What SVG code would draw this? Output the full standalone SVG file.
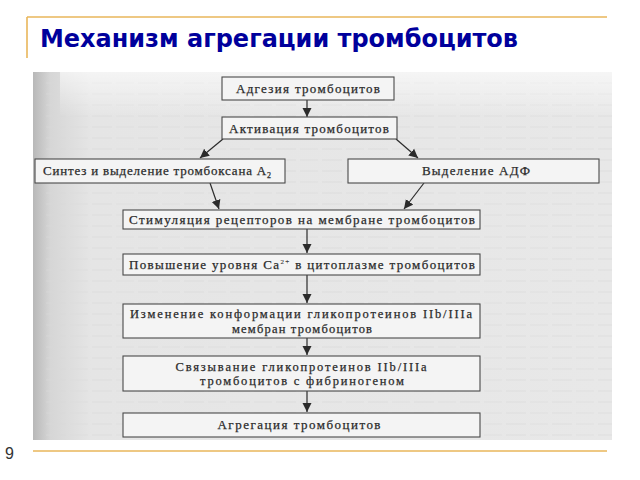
<svg xmlns="http://www.w3.org/2000/svg" width="640" height="480" viewBox="0 0 640 480">
<defs>
<style>
.box{fill:#f4f4f4;stroke:#4a4a4a;stroke-width:1.1}
.t{font-family:"Liberation Serif","Times New Roman",serif;font-size:13px;fill:#2b2b2b;stroke:#2b2b2b;stroke-width:0.25;text-anchor:middle}
.t2{font-size:12.5px}
.c{stroke:#2b2b2b;stroke-width:1.2;fill:none}
.gold{stroke:#E9B65A;stroke-width:1.6}
</style>
<marker id="ah" markerUnits="userSpaceOnUse" markerWidth="10" markerHeight="10" refX="9" refY="5" orient="auto">
<path d="M0,0.5 L9,5 L0,9.5 Z" fill="#2b2b2b"/>
</marker>
<linearGradient id="scanG" x1="0" y1="0" x2="1" y2="0">
<stop offset="0" stop-color="#b8b8b8"/>
<stop offset="0.03" stop-color="#d6d6d6"/>
<stop offset="0.1" stop-color="#e5e5e5"/>
<stop offset="1" stop-color="#e8e8e8"/>
</linearGradient>
<linearGradient id="topFade" x1="0" y1="0" x2="0" y2="1">
<stop offset="0" stop-color="#ffffff" stop-opacity="0.6"/>
<stop offset="1" stop-color="#ffffff" stop-opacity="0"/>
</linearGradient>
<pattern id="lines" width="46" height="11" patternUnits="userSpaceOnUse">
<line x1="0" y1="6" x2="20" y2="6" stroke="#d9d9d9" stroke-width="1.4"/>
<line x1="24" y1="6" x2="42" y2="6" stroke="#dcdcdc" stroke-width="1.4"/>
</pattern>
</defs>
<rect x="0" y="0" width="640" height="480" fill="#ffffff"/>
<line class="gold" x1="27" y1="17" x2="607" y2="17"/>
<line class="gold" x1="27" y1="17" x2="27" y2="58"/>
<text x="40" y="47" font-family="'DejaVu Sans','Verdana',sans-serif" font-weight="bold" font-size="24" fill="#00009C" textLength="478" lengthAdjust="spacingAndGlyphs">Механизм агрегации тромбоцитов</text>
<rect x="33" y="72" width="579" height="368" fill="url(#scanG)"/>
<rect x="45" y="76" width="567" height="362" fill="url(#lines)" opacity="0.5"/>
<rect x="60" y="72" width="552" height="45" fill="url(#topFade)"/>
<g id="connectors">
<line class="c" x1="307" y1="100" x2="307" y2="117" marker-end="url(#ah)"/>
<line class="c" x1="223" y1="139" x2="200" y2="158" marker-end="url(#ah)"/>
<line class="c" x1="396" y1="139" x2="418" y2="158" marker-end="url(#ah)"/>
<line class="c" x1="210" y1="183" x2="219" y2="209" marker-end="url(#ah)"/>
<line class="c" x1="424" y1="183" x2="404" y2="209" marker-end="url(#ah)"/>
<line class="c" x1="307" y1="229" x2="307" y2="253" marker-end="url(#ah)"/>
<line class="c" x1="307" y1="275" x2="307" y2="303" marker-end="url(#ah)"/>
<line class="c" x1="307" y1="338" x2="307" y2="355" marker-end="url(#ah)"/>
<line class="c" x1="307" y1="391" x2="307" y2="412" marker-end="url(#ah)"/>
</g>
<g id="n1"><rect class="box" x="222" y="77" width="172" height="23"/><text class="t" x="308" y="93" textLength="144">Адгезия тромбоцитов</text></g>
<g id="n2"><rect class="box" x="222" y="117" width="175" height="22"/><text class="t" x="309" y="133" textLength="160">Активация тромбоцитов</text></g>
<g id="n3"><rect class="box" x="35" y="159" width="250" height="24"/><text class="t" x="157" y="175" textLength="228">Синтез и выделение тромбоксана A<tspan font-size="8" dy="3">2</tspan></text></g>
<g id="n4"><rect class="box" x="348" y="159" width="251" height="24"/><text class="t" x="476" y="175" textLength="108">Выделение АДФ</text></g>
<g id="n5"><rect class="box" x="123" y="210" width="357" height="19"/><text class="t" x="302" y="224" textLength="346">Стимуляция рецепторов на мембране тромбоцитов</text></g>
<g id="n6"><rect class="box" x="123" y="254" width="357" height="21"/><text class="t" x="302" y="269" textLength="346">Повышение уровня Ca<tspan font-size="7" dy="-5" stroke-width="0.1">2+</tspan><tspan dy="5"> в цитоплазме тромбоцитов</tspan></text></g>
<g id="n7"><rect class="box" x="123" y="304" width="357" height="34"/><text class="t t2" x="301" y="318" textLength="342">Изменение конформации гликопротеинов IIb/IIIa</text><text class="t t2" x="302" y="332.5" textLength="140">мембран тромбоцитов</text></g>
<g id="n8"><rect class="box" x="123" y="356" width="357" height="35"/><text class="t t2" x="301" y="370.5" textLength="251">Связывание гликопротеинов IIb/IIIa</text><text class="t t2" x="302" y="385" textLength="204">тромбоцитов с фибриногеном</text></g>
<g id="n9"><rect class="box" x="123" y="413" width="357" height="24"/><text class="t" x="299" y="429" textLength="163">Агрегация тромбоцитов</text></g>
<line class="gold" x1="33" y1="451" x2="607" y2="451"/>
<text x="5" y="459" font-family="'Liberation Sans',Arial,sans-serif" font-size="16" fill="#333">9</text>
</svg>
